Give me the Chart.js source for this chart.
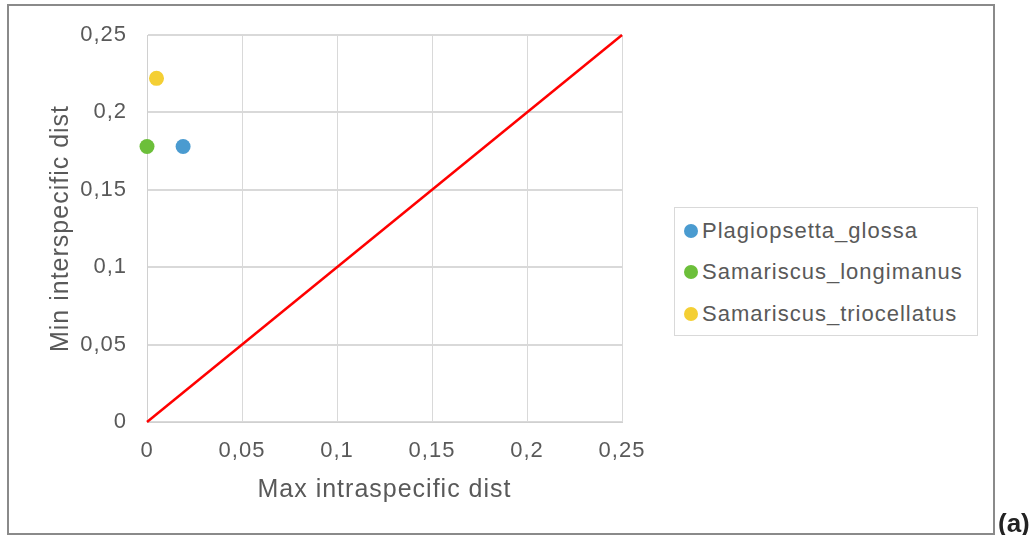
<!DOCTYPE html>
<html>
<head>
<meta charset="utf-8">
<script src="https://cdn.jsdelivr.net/npm/chart.js@4.4.1/dist/chart.umd.min.js"></script>
<style>
  html, body { margin: 0; padding: 0; background: #fff; }
  body { width: 1036px; height: 535px; position: relative; overflow: hidden; font-family: "Liberation Sans", Arial, sans-serif; }
  #frame { position: absolute; left: 7px; top: 4px; width: 984px; height: 527px; border: 2px solid #8a8a8a; }
  #wrap { position: absolute; left: 0; top: 0; width: 1036px; height: 535px; }
  #legend { position: absolute; left: 674px; top: 207px; width: 302px; height: 127px; border: 1px solid #d9d9d9; background: #fff; }
  .lg-item { position: absolute; left: 0; height: 24px; display: flex; align-items: center; color: #595959; font-size: 22px; letter-spacing: 1px; white-space: nowrap; }
  .lg-dot { width: 14px; height: 14px; border-radius: 50%; margin-left: 9px; margin-right: 4px; }
  #tag { position: absolute; left: 998px; top: 508px; font-size: 26px; font-weight: bold; color: #222; line-height: 30px; }
</style>
</head>
<body>
<div id="frame"></div>
<div id="wrap"><canvas id="chart"></canvas></div>
<div id="legend"></div>
<div id="tag">(a)</div>
<script>
// species and their (max intra, min inter) distances
const species = ["Plagiopsetta_glossa", "Samariscus_longimanus", "Samariscus_triocellatus"];
const maxIntra = [0.019, 0, 0.005];
const minInter = [0.178, 0.178, 0.222];
const speciesColors = ["#4a9bd0", "#6cbf3a", "#f4cf34"];

// 1:1 reference line
const refLineX = [0, 0.25];
const refLineY = [0, 0.25];

const axisTicks = [0, 0.05, 0.1, 0.15, 0.2, 0.25];

const fmt = v => String(Math.round(v * 100) / 100).replace(".", ",");

const datasets = species.map((name, i) => ({
  type: "scatter",
  label: name,
  data: [{ x: maxIntra[i], y: minInter[i] }],
  backgroundColor: speciesColors[i],
  borderColor: speciesColors[i],
  pointRadius: 7.5,
  pointHoverRadius: 7.5,
  borderWidth: 0,
  clip: false,
}));
datasets.push({
  type: "line",
  label: "ref",
  data: refLineX.map((x, i) => ({ x: x, y: refLineY[i] })),
  borderColor: "#ff0000",
  borderWidth: 2.5,
  pointRadius: 0,
  fill: false,
  clip: false,
});

const spacing = {
  id: "spacing",
  beforeDraw(chart) { chart.ctx.letterSpacing = "1px"; },
};

const chart = new Chart(document.getElementById("chart"), {
  data: { datasets },
  options: {
    responsive: true,
    maintainAspectRatio: false,
    animation: false,
    layout: { padding: { left: 0, top: 35, right: 414, bottom: 0 } },
    plugins: { legend: { display: false }, tooltip: { enabled: false } },
    scales: {
      x: {
        type: "linear",
        min: 0,
        max: 0.25,
        afterFit: s => { s.height = 113; },
        afterBuildTicks: s => { s.ticks = axisTicks.map(v => ({ value: v })); },
        grid: { color: "#d9d9d9", lineWidth: 1, drawTicks: false },
        border: { color: "#d0d0d0", width: 1 },
        ticks: { padding: 16, color: "#595959", font: { family: "Liberation Sans", size: 22 }, callback: fmt, maxRotation: 0 },
        title: { display: true, text: "Max intraspecific dist", color: "#595959", font: { family: "Liberation Sans", size: 25 }, padding: { top: 0, bottom: 30 } },
      },
      y: {
        type: "linear",
        min: 0,
        max: 0.25,
        afterFit: s => { s.width = 147; },
        afterBuildTicks: s => { s.ticks = axisTicks.map(v => ({ value: v })); },
        grid: { color: "#d9d9d9", lineWidth: 2, drawTicks: false },
        border: { color: "#d0d0d0", width: 1 },
        ticks: { padding: 20, color: "#595959", font: { family: "Liberation Sans", size: 22 }, callback: fmt },
        title: { display: true, text: "Min interspecific dist", color: "#595959", font: { family: "Liberation Sans", size: 25 }, padding: { top: 46, bottom: 0 } },
      },
    },
  },
  plugins: [spacing],
});

// legend built from the chart's own scatter datasets
const rowTops = [11, 52, 94];
document.getElementById("legend").innerHTML = chart.data.datasets
  .filter(d => d.type === "scatter")
  .map((d, i) => `<div class="lg-item" style="top:${rowTops[i]}px"><span class="lg-dot" style="background:${d.backgroundColor}"></span>${d.label}</div>`)
  .join("");
</script>
</body>
</html>
